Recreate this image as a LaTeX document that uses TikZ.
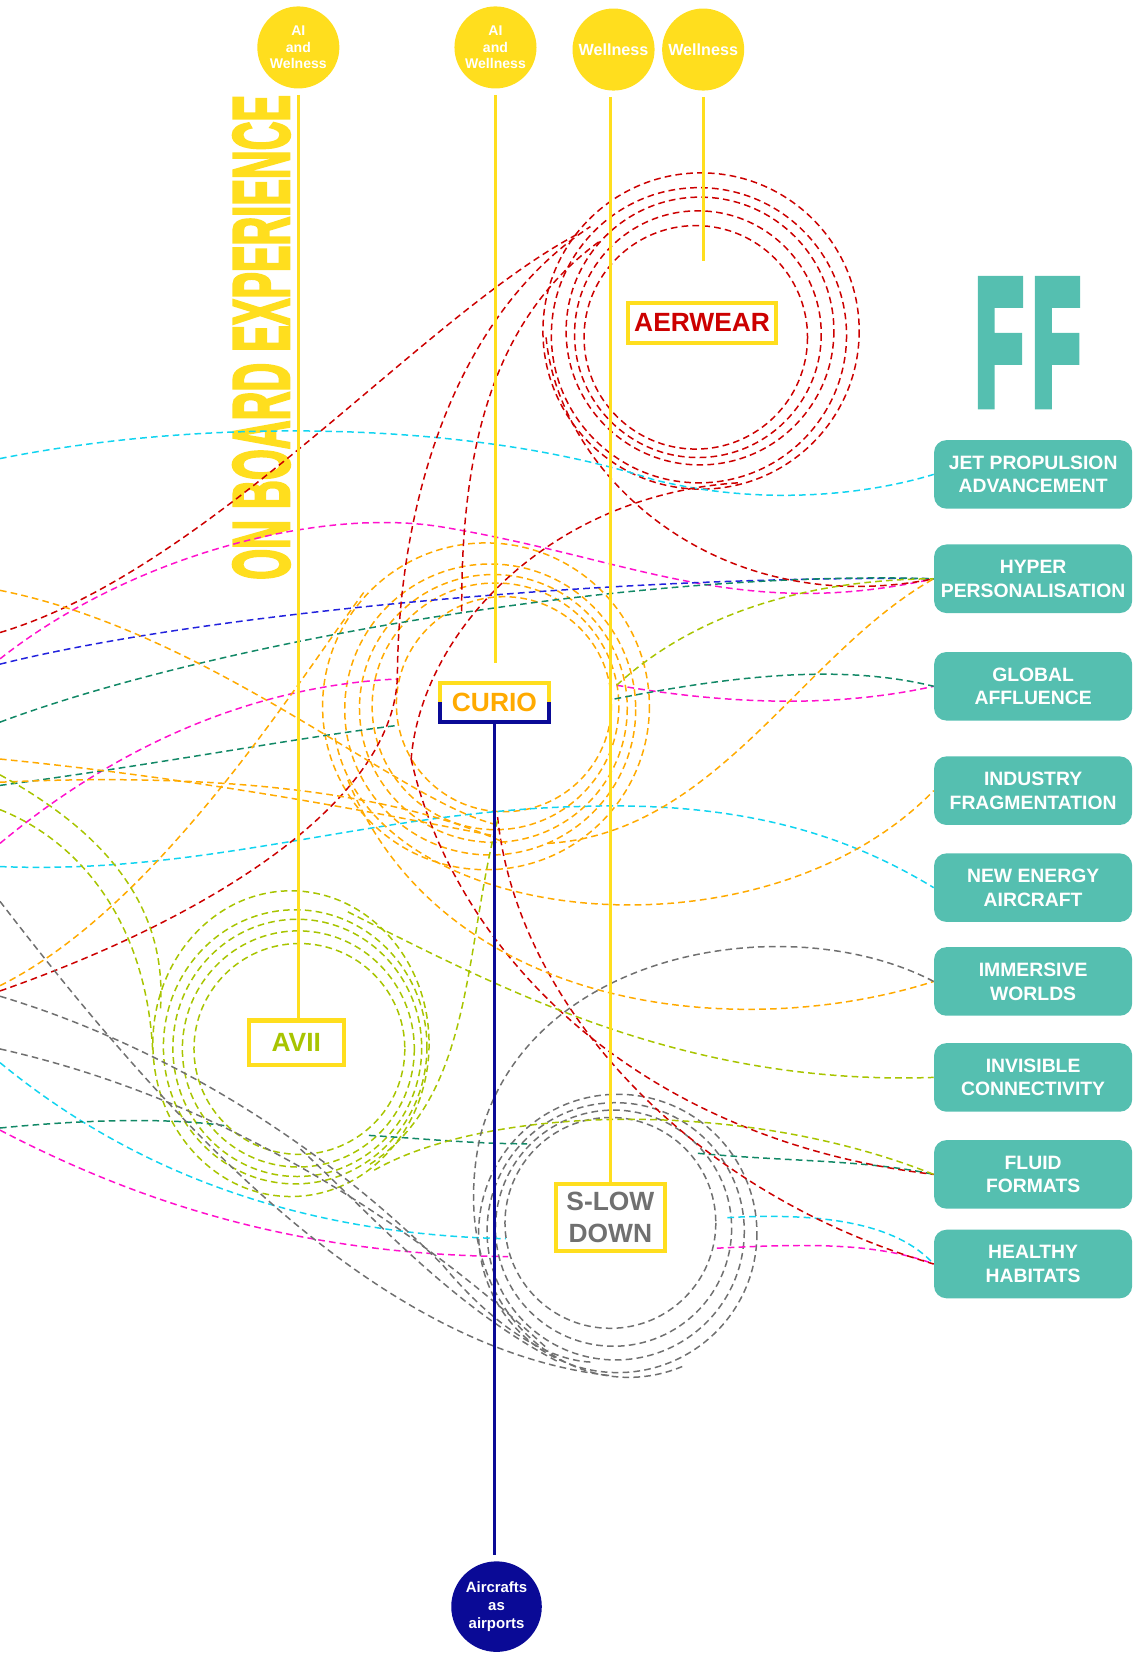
\documentclass[tikz,border=0pt]{standalone}
\usepackage{fontspec}
\setmainfont{Liberation Sans}
\newfontfamily\heavyfont[FakeBold=3.5]{Liberation Sans Bold}
\newfontfamily\fffont[FakeBold=7]{Liberation Sans Bold}
\usepackage{graphicx}
\usepackage{xcolor}
\usepackage{tikz}
\definecolor{hubyellow}{RGB}{255,222,30}
\definecolor{trendteal}{RGB}{85,191,176}
\definecolor{navyline}{RGB}{10,10,150}
\definecolor{aerred}{RGB}{204,0,0}
\definecolor{curioorange}{RGB}{255,170,0}
\definecolor{aviigreen}{RGB}{168,196,0}
\definecolor{slowgrey}{RGB}{112,112,112}
\definecolor{linkcyan}{RGB}{17,212,240}
\definecolor{linkmagenta}{RGB}{255,17,204}
\definecolor{linkblue}{RGB}{34,34,221}
\definecolor{linkteal}{RGB}{17,136,102}

\begin{document}
\begin{tikzpicture}[
    x=0.02107cm, y=-0.02107cm,
    topdot/.style={circle, fill=hubyellow, minimum size=1.64cm, inner sep=0pt, text=white, font=\bfseries\fontsize{8}{9.5}\selectfont, align=center},
    trend/.style={fill=trendteal, rounded corners=7pt, minimum width=3.96cm, minimum height=1.37cm, inner sep=0pt, text=white, font=\bfseries\fontsize{11}{13.5}\selectfont, align=center},
    hub/.style={draw=hubyellow, line width=2.3pt, fill=white, inner sep=0pt, outer sep=0pt, font=\bfseries\fontsize{15}{18}\selectfont, align=center},
    stem/.style={hubyellow, line width=1.6pt},
    link/.style={dash pattern=on 3.8pt off 2.4pt, line width=0.85pt}
]
    \useasboundingbox (0,0) rectangle (1080,1568);

    % Titles
    \node[rotate=90, text=hubyellow, inner sep=0pt] (onboard) at (248,320) {\resizebox{9.69cm}{1.12cm}{\heavyfont ON BOARD EXPERIENCE}};
    \node[text=trendteal, inner sep=0pt] (ff) at (975,325) {\resizebox{2.1cm}{2.42cm}{\fffont F\kern0.12em F}};

    % Trend boxes
    \node[trend] (jet) at (980,450) {JET PROPULSION\\ADVANCEMENT};
    \node[trend] (hyper) at (980,549) {HYPER\\PERSONALISATION};
    \node[trend] (global) at (980,651) {GLOBAL\\AFFLUENCE};
    \node[trend] (industry) at (980,750) {INDUSTRY\\FRAGMENTATION};
    \node[trend] (energy) at (980,842) {NEW ENERGY\\AIRCRAFT};
    \node[trend] (immersive) at (980,931) {IMMERSIVE\\WORLDS};
    \node[trend] (invisible) at (980,1022) {INVISIBLE\\CONNECTIVITY};
    \node[trend] (fluid) at (980,1114) {FLUID\\FORMATS};
    \node[trend] (healthy) at (980,1199) {HEALTHY\\HABITATS};

    % Ring centres
    \coordinate (aerc) at (662,316);
    \coordinate (curc) at (466,670);
    \coordinate (avc) at (281,993);
    \coordinate (slc) at (581,1163);

    % Left edge ends
    \coordinate (cyA) at (0,435);   \coordinate (cyB) at (0,822);   \coordinate (cyC) at (0,1008);
    \coordinate (mgA) at (0,625);   \coordinate (mgB) at (0,800);   \coordinate (mgC) at (0,1072);
    \coordinate (blA) at (0,630);
    \coordinate (dgA) at (0,685);   \coordinate (dgB) at (0,745);   \coordinate (dgC) at (0,1070);
    \coordinate (rdA) at (0,600);   \coordinate (rdB) at (0,940);
    \coordinate (orA) at (0,560);   \coordinate (orB) at (0,720);   \coordinate (orC) at (0,742);   \coordinate (orD) at (0,935);
    \coordinate (gnA) at (0,735);   \coordinate (gnB) at (0,768);
    \coordinate (gyA) at (0,855);   \coordinate (gyB) at (0,945);   \coordinate (gyC) at (0,995);

    % Ring ends
    \coordinate (aerA) at (548,222); \coordinate (aerB) at (560,215); \coordinate (aerC) at (570,228);
    \coordinate (aerD) at (518,320); \coordinate (aerE) at (700,458); \coordinate (aertop) at (667,248);
    \coordinate (curA) at (378,644); \coordinate (curB) at (378,688); \coordinate (curC) at (585,650);
    \coordinate (curD) at (583,663); \coordinate (curE) at (470,782); \coordinate (curF) at (470,793);
    \coordinate (curG) at (480,800); \coordinate (curH) at (345,562); \coordinate (curI) at (318,700);
    \coordinate (curJ) at (330,740); \coordinate (curK) at (520,800); \coordinate (curL) at (472,778);
    \coordinate (curM) at (438,580); \coordinate (curN) at (390,720); \coordinate (curO) at (472,775);
    \coordinate (avA) at (152,960);  \coordinate (avB) at (145,1000); \coordinate (avC) at (330,865);
    \coordinate (avD) at (355,1110); \coordinate (avE) at (350,1105); \coordinate (avF) at (215,1068);
    \coordinate (avG) at (350,1077); \coordinate (avH) at (285,1090);
    \coordinate (slA) at (480,1175); \coordinate (slB) at (482,1192); \coordinate (slC) at (690,1155);
    \coordinate (slD) at (680,1184); \coordinate (slE) at (500,1085); \coordinate (slF) at (662,1094);
    \coordinate (slG) at (580,1305); \coordinate (slH) at (560,1292); \coordinate (slI) at (520,1280);
    \coordinate (slJ) at (530,1292); \coordinate (slK) at (650,1295);

    % Rings
    \foreach \dx/\dy/\r in {-2/4/106, 0/1/117, 2/-2/127, 1/2/140, 3/-2/150}
        \draw[link, aerred] ([shift={(\dx,\dy)}]aerc) circle[radius=\r];
    \foreach \dx/\dy/\r in {12/-2/102, 4/0/117, 2/2/127, -1/3/138, -5/0/155}
        \draw[link, curioorange] ([shift={(\dx,\dy)}]curc) circle[radius=\r];
    \foreach \dx/\dy/\rx/\ry in {3/2/100/100, 2/2/110/112, 1/1/118/122, -1/0/125/130, -5/-3/131/145}
        \draw[link, aviigreen] ([shift={(\dx,\dy)}]avc) ellipse[x radius=\rx, y radius=\ry];
    \foreach \dx/\dy/\r in {-2/-3/100, 1/2/112, 3/5/122, 5/7/132}
        \draw[link, slowgrey] ([shift={(\dx,\dy)}]slc) circle[radius=\r];

    % Cyan links
    \draw[link, linkcyan] (cyA) .. controls (200,395) and (450,400) .. (620,455) .. controls (720,480) and (820,470) .. (jet.west);
    \draw[link, linkcyan] (cyB) .. controls (200,830) and (350,770) .. (550,765) .. controls (700,760) and (800,790) .. (energy.west);
    \draw[link, linkcyan] (cyC) .. controls (100,1090) and (250,1170) .. (slA);
    \draw[link, linkcyan] (slC) .. controls (780,1150) and (850,1160) .. (healthy.west);

    % Magenta links
    \draw[link, linkmagenta] (mgA) .. controls (120,530) and (300,480) .. (420,500) .. controls (600,530) and (700,590) .. (hyper.west);
    \draw[link, linkmagenta] (mgB) .. controls (120,700) and (250,650) .. (curA);
    \draw[link, linkmagenta] (curC) .. controls (700,670) and (800,670) .. (global.west);
    \draw[link, linkmagenta] (mgC) .. controls (150,1150) and (300,1190) .. (slB);
    \draw[link, linkmagenta] (slD) .. controls (760,1180) and (830,1178) .. (healthy.west);

    % Blue and teal links
    \draw[link, linkblue] (blA) .. controls (200,580) and (600,545) .. (hyper.west);
    \draw[link, linkteal] (dgA) .. controls (200,610) and (600,540) .. (hyper.west);
    \draw[link, linkteal] (dgB) .. controls (150,725) and (280,700) .. (curB);
    \draw[link, linkteal] (curD) .. controls (700,640) and (800,630) .. (global.west);
    \draw[link, linkteal] (dgC) .. controls (80,1062) and (160,1060) .. (avF);
    \draw[link, linkteal] (avG) .. controls (400,1080) and (450,1085) .. (slE);
    \draw[link, linkteal] (slF) .. controls (750,1102) and (820,1100) .. (fluid.west);

    % Red links
    \draw[link, aerred] (rdA) .. controls (200,540) and (400,300) .. (aerA);
    \draw[link, aerred] (rdB) .. controls (200,870) and (375,760) .. (377,640) .. controls (378,480) and (430,300) .. (aerB);
    \draw[link, aerred] (curM) .. controls (437,420) and (470,300) .. (aerC);
    \draw[link, aerred] (aerD) .. controls (530,450) and (680,590) .. (hyper.west);
    \draw[link, aerred] (aerE) .. controls (520,470) and (400,600) .. (curN);
    \draw[link, aerred] (curN) .. controls (430,900) and (600,1080) .. (fluid.west);
    \draw[link, aerred] (curO) .. controls (490,950) and (650,1130) .. (healthy.west);

    % Orange links
    \draw[link, curioorange] (orA) .. controls (200,600) and (380,760) .. (curE);
    \draw[link, curioorange] (orB) .. controls (200,740) and (350,770) .. (curF);
    \draw[link, curioorange] (orC) .. controls (150,735) and (350,740) .. (curG);
    \draw[link, curioorange] (orD) .. controls (150,860) and (280,650) .. (curH);
    \draw[link, curioorange] (curI) .. controls (350,880) and (720,920) .. (industry.west);
    \draw[link, curioorange] (curJ) .. controls (420,960) and (700,990) .. (immersive.west);
    \draw[link, curioorange] (curK) .. controls (680,790) and (760,620) .. (hyper.west);

    % Green links
    \draw[link, aviigreen] (gnA) .. controls (100,790) and (160,860) .. (avA);
    \draw[link, aviigreen] (gnB) .. controls (80,800) and (140,880) .. (avB);
    \draw[link, aviigreen] (avC) .. controls (480,940) and (650,1030) .. (invisible.west);
    \draw[link, aviigreen] (avD) .. controls (460,1050) and (700,1040) .. (fluid.west);
    \draw[link, aviigreen] (curL) .. controls (440,900) and (450,1040) .. (avE);
    \draw[link, aviigreen] (curC) .. controls (650,590) and (750,550) .. (hyper.west);

    % Grey links
    \draw[link, slowgrey] (immersive.west) .. controls (750,860) and (500,900) .. (455,1080) .. controls (420,1250) and (550,1340) .. (slK);
    \draw[link, slowgrey] (gyA) .. controls (150,1050) and (350,1280) .. (slG);
    \draw[link, slowgrey] (gyB) .. controls (150,990) and (300,1080) .. (420,1200) .. controls (470,1260) and (520,1290) .. (slH);
    \draw[link, slowgrey] (gyC) .. controls (200,1040) and (380,1150) .. (slI);
    \draw[link, slowgrey] (avH) .. controls (360,1160) and (430,1240) .. (slJ);

    % Top dots
    \node[topdot] (aiw1) at (283,45) {AI\\and\\Welness};
    \node[topdot] (aiw2) at (470,45) {AI\\and\\Wellness};
    \node[topdot, font=\bfseries\fontsize{9.2}{11}\selectfont] (well1) at (582,47) {Wellness};
    \node[topdot, font=\bfseries\fontsize{9.2}{11}\selectfont] (well2) at (667,47) {Wellness};
    \node[topdot, fill=navyline, minimum size=1.81cm, font=\bfseries\fontsize{8.5}{10}\selectfont] (air) at (471,1524) {Aircrafts\\as\\airports};

    % Hub labels
    \node[hub, text=aerred, minimum width=2.97cm, minimum height=0.8cm] (aerwear) at (666,306) {AERWEAR};
    \node[hub, draw=none, text=curioorange, minimum width=2.17cm, minimum height=0.78cm] (curio) at (469,666) {CURIO};
    \node[hub, text=aviigreen, minimum width=1.9cm, minimum height=0.885cm] (avii) at (281,989) {AVII};
    \node[hub, text=slowgrey, minimum width=2.19cm, minimum height=1.35cm] (slow) at (579,1155) {S-LOW\\DOWN};
    \draw[hubyellow, line width=2.3pt] (curio.west) -- (curio.north west) -- (curio.north east) -- (curio.east);
    \draw[navyline, line width=2.3pt] (curio.west) -- (curio.south west) -- (curio.south east) -- (curio.east);

    % Stems
    \draw[stem, shorten <=0.12cm] (aiw1.south) -- (aiw1.south |- avii.north);
    \draw[stem, shorten <=0.12cm, shorten >=0.4cm] (aiw2.south) -- (aiw2.south |- curio.north);
    \draw[stem, shorten <=0.12cm] (slow.north |- well1.south) -- (slow.north);
    \draw[stem, shorten <=0.12cm] (well2.south) -- (aertop);
    \draw[navyline, line width=1.7pt, shorten >=0.12cm] (curio.south) -- (curio.south |- air.north);
\end{tikzpicture}
\end{document}
